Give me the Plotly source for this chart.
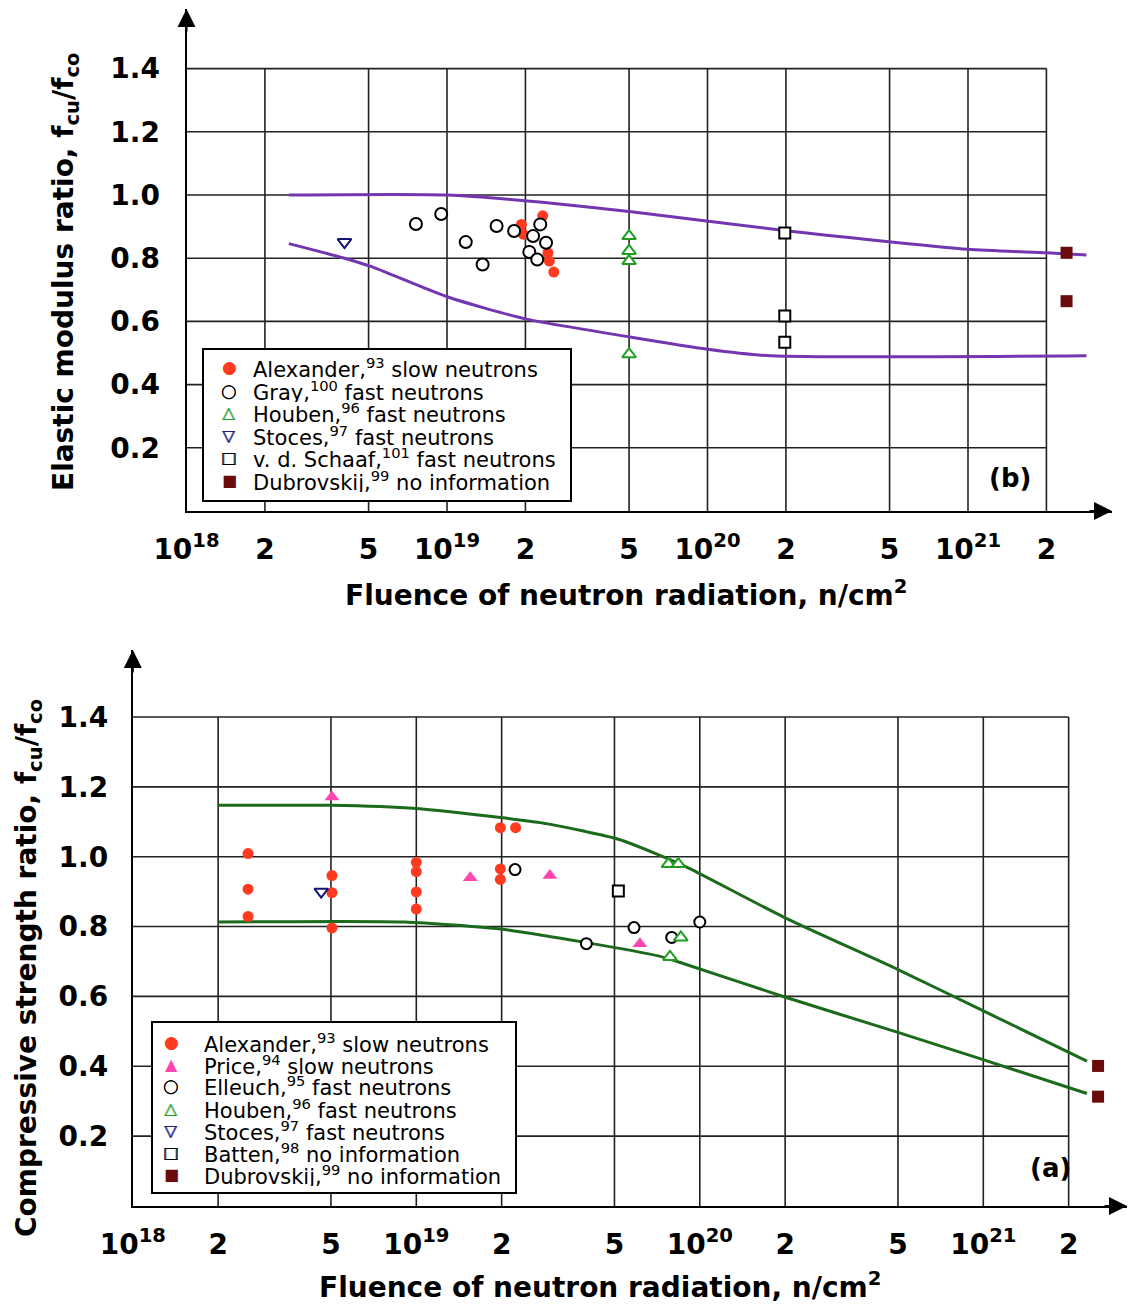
import numpy as np
import plotly.graph_objects as go

# ---------------- data: panel (b) elastic modulus ----------------
b_alex_x = [1.93e19, 1.96e19, 2.33e19, 2.44e19, 2.47e19, 2.57e19]
b_alex_y = [0.907, 0.876, 0.934, 0.817, 0.791, 0.756]
b_gray_x = [7.6e18, 9.5e18, 1.18e19, 1.37e19, 1.55e19, 1.81e19, 2.14e19, 2.28e19, 2.40e19, 2.07e19, 2.22e19]
b_gray_y = [0.908, 0.940, 0.851, 0.780, 0.902, 0.886, 0.870, 0.907, 0.849, 0.820, 0.796]
b_houben_x = [5.0e19, 5.0e19, 5.0e19, 5.0e19]
b_houben_y = [0.870, 0.823, 0.791, 0.496]
b_stoces_x = [4.04e18]
b_stoces_y = [0.851]
b_schaaf_x = [1.98e20, 1.98e20, 1.98e20]
b_schaaf_y = [0.880, 0.617, 0.534]
b_dub_x = [2.39e21, 2.39e21]
b_dub_y = [0.817, 0.664]
b_upper_x = [2.47e18, 1.0e19, 2.32e19, 5.1e19, 2.0e20, 1.0e21, 2.0e21, 2.85e21]
b_upper_y = [1.0, 1.0, 0.977, 0.947, 0.887, 0.828, 0.817, 0.810]
b_lower_x = [2.47e18, 4.04e18, 5.1e18, 1.0e19, 2.0e19, 5.1e19, 1.0e20, 1.75e20, 2.85e21]
b_lower_y = [0.846, 0.800, 0.774, 0.678, 0.608, 0.550, 0.512, 0.491, 0.491]

# ---------------- data: panel (a) compressive strength ----------------
a_alex_x = [2.55e18, 2.55e18, 2.55e18, 5.04e18, 5.04e18, 5.04e18,
            1.0e19, 1.0e19, 1.0e19, 1.0e19, 1.98e19, 2.24e19, 1.98e19, 1.98e19]
a_alex_y = [1.009, 0.907, 0.829, 0.946, 0.897, 0.796,
            0.984, 0.957, 0.899, 0.850, 1.083, 1.083, 0.965, 0.935]
a_price_x = [5.04e18, 1.55e19, 2.96e19, 6.15e19]
a_price_y = [1.171, 0.940, 0.946, 0.751]
a_elleuch_x = [2.23e19, 3.98e19, 5.86e19, 7.96e19, 1.0e20]
a_elleuch_y = [0.963, 0.751, 0.797, 0.769, 0.813]
a_houben_x = [7.75e19, 8.4e19, 8.57e19, 7.85e19]
a_houben_y = [0.979, 0.979, 0.769, 0.713]
a_stoces_x = [4.62e18]
a_stoces_y = [0.900]
a_batten_x = [5.16e19]
a_batten_y = [0.902]
a_dub_x = [2.54e21, 2.54e21]
a_dub_y = [0.401, 0.313]
a_upper_x = [2.0e18, 5.0e18, 1.0e19, 1.98e19, 2.91e19, 5.16e19, 7.13e19, 9.1e19, 2.0e20, 5.0e20, 9.8e20, 2.32e21]
a_upper_y = [1.147, 1.147, 1.138, 1.112, 1.094, 1.050, 1.006, 0.968, 0.825, 0.677, 0.562, 0.415]
a_lower_x = [2.0e18, 9.06e18, 1.98e19, 3.98e19, 7.13e19, 8.69e19, 1.98e20, 5.0e20, 9.8e20, 2.32e21]
a_lower_y = [0.813, 0.813, 0.793, 0.754, 0.716, 0.695, 0.599, 0.497, 0.421, 0.322]

# ---------------- ticks ----------------
x_tickvals = [1e18, 2e18, 5e18, 1e19, 2e19, 5e19, 1e20, 2e20, 5e20, 1e21, 2e21]
x_ticktext = ["10<sup>18</sup>", "2", "5", "10<sup>19</sup>", "2", "5",
              "10<sup>20</sup>", "2", "5", "10<sup>21</sup>", "2"]
y_tickvals = [0.2, 0.4, 0.6, 0.8, 1.0, 1.2, 1.4]
y_ticktext = ["0.2", "0.4", "0.6", "0.8", "1.0", "1.2", "1.4"]

# legend entries (label, glyph, colour, glyph size)
b_legend = [
    ("Alexander,<sup>93</sup> slow neutrons", "●", "#ff3a1e", 17),
    ("Gray,<sup>100</sup> fast neutrons", "○", "black", 18),
    ("Houben,<sup>96</sup> fast neutrons", "△", "#1f9e1f", 16),
    ("Stoces,<sup>97</sup> fast neutrons", "▽", "#14147a", 16),
    ("v. d. Schaaf,<sup>101</sup> fast neutrons", "□", "black", 16),
    ("Dubrovskij,<sup>99</sup> no information", "■", "#6a0c0c", 16),
]
a_legend = [
    ("Alexander,<sup>93</sup> slow neutrons", "●", "#ff3a1e", 17),
    ("Price,<sup>94</sup> slow neutrons", "▲", "#ff45b0", 16),
    ("Elleuch,<sup>95</sup> fast neutrons", "○", "black", 18),
    ("Houben,<sup>96</sup> fast neutrons", "△", "#1f9e1f", 16),
    ("Stoces,<sup>97</sup> fast neutrons", "▽", "#14147a", 16),
    ("Batten,<sup>98</sup> no information", "□", "black", 16),
    ("Dubrovskij,<sup>99</sup> no information", "■", "#6a0c0c", 16),
]

# ---------------- styles ----------------
RED = "#ff3a1e"
PINK = "#ff45b0"
HGREEN = "#1f9e1f"
NAVY = "#14147a"
MAROON = "#6a0c0c"
PURPLE = "#7436b0"
DGREEN = "#1c6a1c"
FONT = "DejaVu Sans"

# the page body adds an 8 px margin, so the figure is drawn 8 px smaller
OFF = 8
W, H = 1135 - OFF, 1311 - OFF

def px(p):
    return (p - OFF) / W

def py(p):
    return 1 - (p - OFF) / H

fig = go.Figure()

def grid_traces(xa, ya, xmax, ymax):
    gx, gy = [], []
    for v in x_tickvals[1:]:
        gx += [v, v, None]
        gy += [0, ymax, None]
    for v in y_tickvals:
        gx += [x_tickvals[0], xmax, None]
        gy += [v, v, None]
    fig.add_trace(go.Scatter(x=gx, y=gy, mode="lines", xaxis=xa, yaxis=ya,
                             line=dict(color="#222222", width=1.6),
                             hoverinfo="skip", showlegend=False))

grid_traces("x", "y", 2e21, 1.4)
grid_traces("x2", "y2", 2e21, 1.4)

def curve(x, y, xa, ya, color):
    fig.add_trace(go.Scatter(x=x, y=y, mode="lines", xaxis=xa, yaxis=ya,
                             line=dict(color=color, width=3, shape="spline", smoothing=0.6),
                             showlegend=False, hoverinfo="skip"))

curve(b_upper_x, b_upper_y, "x", "y", PURPLE)
curve(b_lower_x, b_lower_y, "x", "y", PURPLE)
curve(a_upper_x, a_upper_y, "x2", "y2", DGREEN)
curve(a_lower_x, a_lower_y, "x2", "y2", DGREEN)

def pts(x, y, name, xa, ya, symbol, color, fill, size, lw=2):
    fig.add_trace(go.Scatter(
        x=x, y=y, mode="markers", name=name, xaxis=xa, yaxis=ya, showlegend=False,
        marker=dict(symbol=symbol, size=size, color=fill, line=dict(color=color, width=lw))))

# panel b
pts(b_alex_x, b_alex_y, "Alexander", "x", "y", "circle", RED, RED, 11, 0)
pts(b_gray_x, b_gray_y, "Gray", "x", "y", "circle", "black", "white", 12)
pts(b_houben_x, b_houben_y, "Houben", "x", "y", "triangle-up", HGREEN, "white", 12)
pts(b_stoces_x, b_stoces_y, "Stoces", "x", "y", "triangle-down", NAVY, "white", 12)
pts(b_schaaf_x, b_schaaf_y, "v. d. Schaaf", "x", "y", "square", "black", "white", 11)
pts(b_dub_x, b_dub_y, "Dubrovskij", "x", "y", "square", MAROON, MAROON, 12, 0)

# panel a
pts(a_alex_x, a_alex_y, "Alexander", "x2", "y2", "circle", RED, RED, 11, 0)
pts(a_price_x, a_price_y, "Price", "x2", "y2", "triangle-up", PINK, PINK, 13, 0)
pts(a_elleuch_x, a_elleuch_y, "Elleuch", "x2", "y2", "circle", "black", "white", 11)
pts(a_houben_x, a_houben_y, "Houben", "x2", "y2", "triangle-up", HGREEN, "white", 12)
pts(a_stoces_x, a_stoces_y, "Stoces", "x2", "y2", "triangle-down", NAVY, "white", 12)
pts(a_batten_x, a_batten_y, "Batten", "x2", "y2", "square", "black", "white", 11)
pts(a_dub_x, a_dub_y, "Dubrovskij", "x2", "y2", "square", MAROON, MAROON, 12, 0)

# ---------------- geometry (pixels in the final picture) ----------------
b_x0, b_dec, b_xend = 186.5, 260.5, 1112.0
b_y0, b_unit, b_ytop = 511.0, 316.0, 9.0
a_x0, a_dec, a_xend = 132.8, 283.5, 1127.0
a_y0, a_unit, a_ytop = 1206.0, 349.3, 650.0

b_xr = [18, 18 + (b_xend - b_x0) / b_dec]
b_yr = [0, (b_y0 - b_ytop) / b_unit]
a_xr = [18, 18 + (a_xend - a_x0) / a_dec]
a_yr = [0, (a_y0 - a_ytop) / a_unit]

tickfont = dict(family=FONT, size=28, color="black", weight="bold")
axis_common = dict(showgrid=False, zeroline=False, showline=True, linecolor="black",
                   linewidth=2, ticks="", tickfont=tickfont, automargin=False)

fig.update_layout(
    template="none",
    width=W, height=H, margin=dict(l=0, r=0, t=0, b=0, pad=0, autoexpand=False),
    paper_bgcolor="white", plot_bgcolor="white", showlegend=False,
    xaxis=dict(type="log", range=b_xr, domain=[px(b_x0), px(b_xend)],
               tickvals=x_tickvals, ticktext=x_ticktext, anchor="y",
               ticklabelstandoff=12, **axis_common),
    yaxis=dict(range=b_yr, domain=[py(b_y0), py(b_ytop)],
               tickvals=y_tickvals, ticktext=y_ticktext, anchor="x",
               ticklabelstandoff=19, **axis_common),
    xaxis2=dict(type="log", range=a_xr, domain=[px(a_x0), min(1.0, px(a_xend))],
                tickvals=x_tickvals, ticktext=x_ticktext, anchor="y2",
                ticklabelstandoff=12, **axis_common),
    yaxis2=dict(range=a_yr, domain=[py(a_y0), py(a_ytop)],
                tickvals=y_tickvals, ticktext=y_ticktext, anchor="x2",
                ticklabelstandoff=17, **axis_common),
)

ann = []
shapes = []
title_font = dict(family=FONT, size=28, color="black", weight="bold")
ann.append(dict(text="Fluence of neutron radiation, n/cm<sup>2</sup>", xref="paper", yref="paper",
                x=px(626), y=py(593), showarrow=False, font=title_font,
                xanchor="center", yanchor="middle"))
ann.append(dict(text="Fluence of neutron radiation, n/cm<sup>2</sup>", xref="paper", yref="paper",
                x=px(600), y=py(1285), showarrow=False, font=title_font,
                xanchor="center", yanchor="middle"))
ann.append(dict(text="Elastic modulus ratio, f<sub>cu</sub>/f<sub>co</sub>", xref="paper", yref="paper",
                x=px(66), y=py(272), showarrow=False, font=title_font, textangle=-90,
                xanchor="center", yanchor="middle"))
ann.append(dict(text="Compressive strength ratio, f<sub>cu</sub>/f<sub>co</sub>", xref="paper", yref="paper",
                x=px(28), y=py(968), showarrow=False, font=title_font, textangle=-90,
                xanchor="center", yanchor="middle"))
ann.append(dict(text="(b)", xref="paper", yref="paper", x=px(1010), y=py(478),
                showarrow=False, font=dict(family=FONT, size=26, color="black", weight="bold"),
                xanchor="center", yanchor="middle"))
ann.append(dict(text="(a)", xref="paper", yref="paper", x=px(1050), y=py(1168),
                showarrow=False, font=dict(family=FONT, size=26, color="black", weight="bold"),
                xanchor="center", yanchor="middle"))

# axis arrows
for xa, ya, xr, yr in [("x", "y", b_xr, b_yr), ("x2", "y2", a_xr, a_yr)]:
    ann.append(dict(text="", xref=xa, yref=ya, x=xr[1], y=0, ax=-24, ay=0,
                    showarrow=True, arrowhead=2, arrowsize=1.8, arrowwidth=2, arrowcolor="black"))
    ann.append(dict(text="", xref=xa, yref=ya, x=xr[0], y=yr[1], ax=0, ay=24,
                    showarrow=True, arrowhead=2, arrowsize=1.8, arrowwidth=2, arrowcolor="black"))

# legends drawn as a box with symbol glyphs and labels
def legend_block(entries, box, mark_x, text_x, row_y):
    x0, y0, x1, y1 = box
    shapes.append(dict(type="rect", xref="paper", yref="paper", layer="above",
                       x0=px(x0), x1=px(x1), y0=py(y1), y1=py(y0),
                       fillcolor="white", line=dict(color="black", width=2)))
    for (label, glyph, col, gsize), ry in zip(entries, row_y):
        # open symbols are drawn twice, a hair apart, to thicken their outline
        offs = [0.0] if glyph in "●■▲" else [-0.4, 0.4]
        for o in offs:
            ann.append(dict(text=glyph, xref="paper", yref="paper", x=px(mark_x + o), y=py(ry),
                            showarrow=False, xanchor="center", yanchor="middle", height=20,
                            font=dict(family=FONT, size=gsize, color=col)))
        ann.append(dict(text=label, xref="paper", yref="paper", x=px(text_x), y=py(ry + 1),
                        showarrow=False, xanchor="left", yanchor="middle", height=22,
                        font=dict(family=FONT, size=21, color="black")))

legend_block(b_legend, (203, 349, 571, 501), 229, 251,
             [367, 390, 412, 435, 457, 480])
legend_block(a_legend, (152, 1022, 516, 1193), 171, 202,
             [1042, 1063.5, 1085, 1107.5, 1130, 1152, 1173.5])

fig.update_layout(annotations=ann, shapes=shapes)
fig.write_html("out.html")
